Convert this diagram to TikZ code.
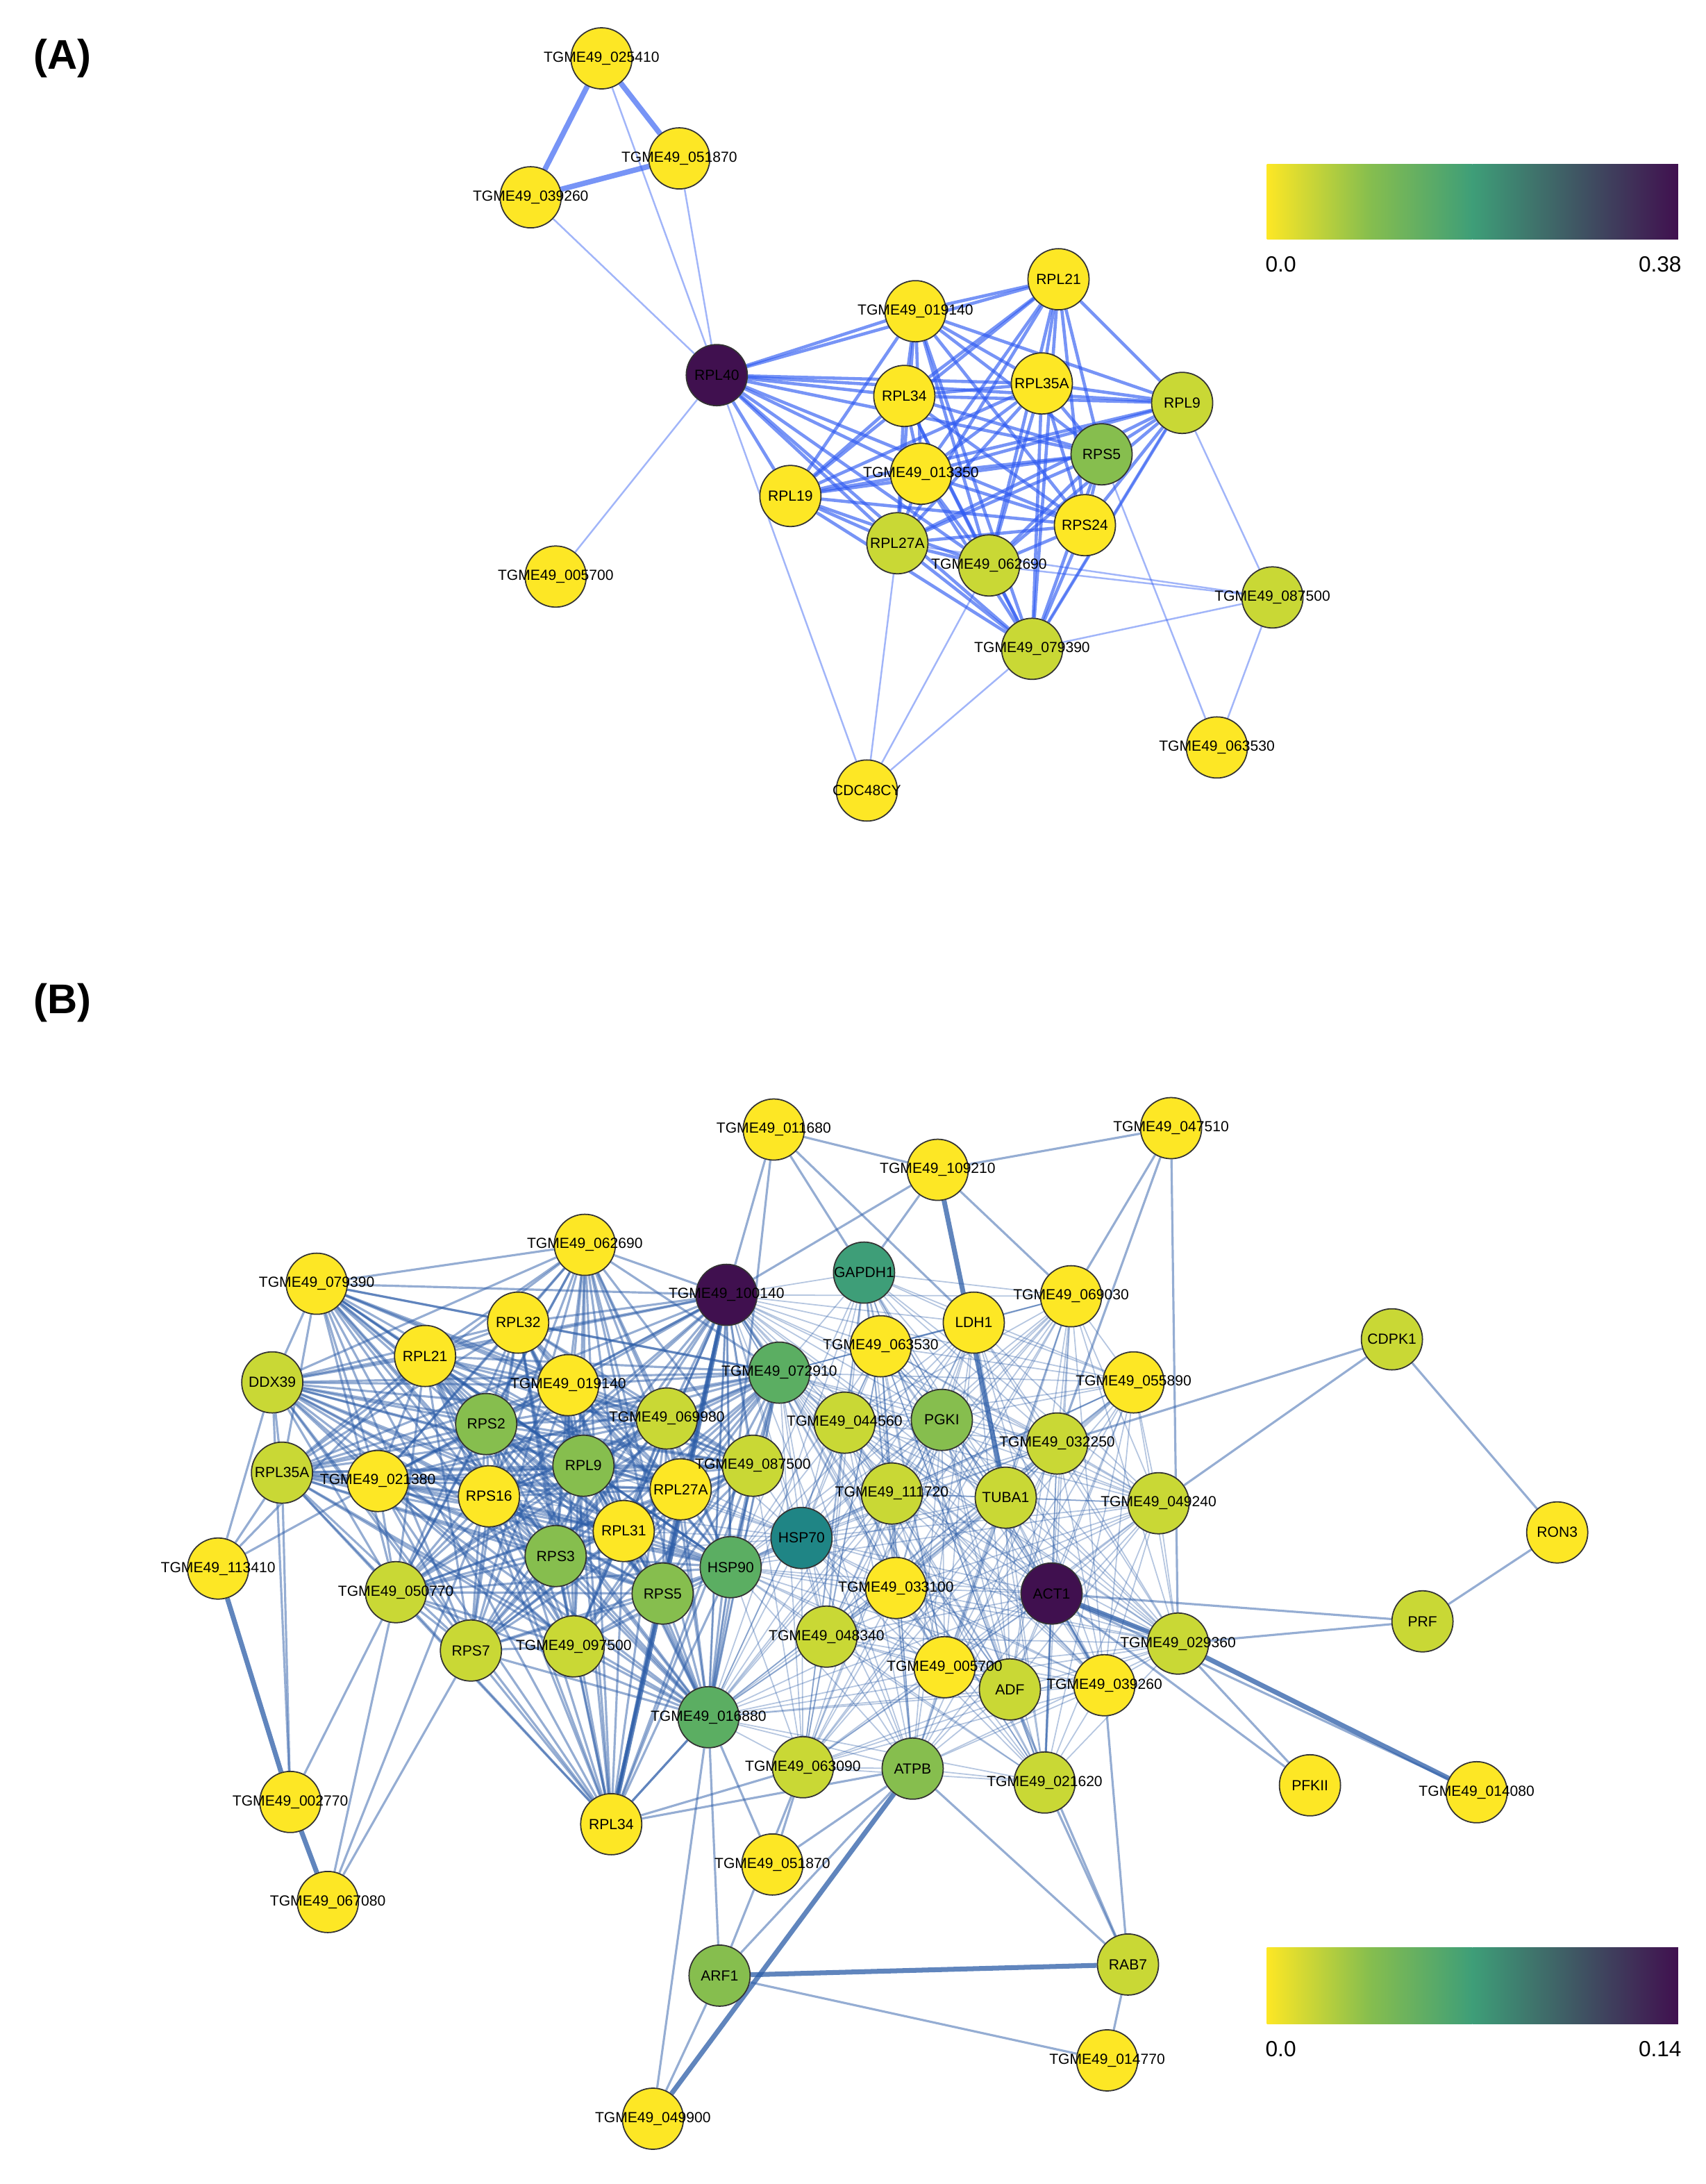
\documentclass[tikz,border=0pt]{standalone}
\usepackage{fontspec}
\setmainfont{Liberation Sans}
\pgfdeclarelayer{back}\pgfdeclarelayer{bg}\pgfdeclarelayer{fg}
\pgfsetlayers{back,bg,main,fg}
\definecolor{cy}{HTML}{FDE725}
\definecolor{co}{HTML}{C9D835}
\definecolor{cg}{HTML}{86BE4E}
\definecolor{cgg}{HTML}{5BAE62}
\definecolor{ct}{HTML}{3E9E78}
\definecolor{ctt}{HTML}{1F8585}
\definecolor{cd}{HTML}{40104F}
\definecolor{ea}{HTML}{2F5BF2}
\definecolor{eb}{HTML}{2C5DA8}
\tikzset{nc/.style={circle,draw=black!80,line width=0.5pt,minimum size=0.88cm,inner sep=0},
 lb/.style={font=\fontsize{6}{7}\selectfont,inner sep=0},
 ae/.style={draw=ea,line width=1.3pt,opacity=.65},
 aet/.style={draw=ea,line width=0.7pt,opacity=.45},
 be/.style={draw=eb,line width=0.9pt,opacity=.5},
 bet/.style={draw=eb,line width=0.5pt,opacity=.35},
 bek/.style={draw=eb,line width=2pt,opacity=.75}}
\newcommand\nd[5]{\node[nc,fill=#4] (#1) at (#2,#3) {};\begin{pgfonlayer}{fg}\node[lb] at (#1) {#5};\end{pgfonlayer}}
\begin{document}
\begin{tikzpicture}[x=0.02cm,y=-0.02cm]
\begin{pgfonlayer}{back}
\fill[white] (0,0) rectangle (1228,1572);
\end{pgfonlayer}
\useasboundingbox (0,0) rectangle (1228,1572);
\node[font=\bfseries\fontsize{17}{20}\selectfont] (LA) at (45,42) {(A)};
\node[font=\bfseries\fontsize{17}{20}\selectfont] (LB) at (45,722) {(B)};
% colorbars
\shade[left color=cy,right color=ct,middle color=cg] (912,118) rectangle (1060,172);
\shade[left color=ct,right color=cd] (1060,118) rectangle (1208,172);
\node[font=\fontsize{9}{10}\selectfont] (ca0) at (922,190) {0.0};
\node[font=\fontsize{9}{10}\selectfont] (ca1) at (1195,190) {0.38};
\shade[left color=cy,right color=ct,middle color=cg] (912,1402) rectangle (1060,1457);
\shade[left color=ct,right color=cd] (1060,1402) rectangle (1208,1457);
\node[font=\fontsize{9}{10}\selectfont] (cb0) at (922,1475) {0.0};
\node[font=\fontsize{9}{10}\selectfont] (cb1) at (1195,1475) {0.14};
% Panel A nodes
\nd{a25}{433}{42}{cy}{TGME49\_025410}
\nd{a51}{489}{114}{cy}{TGME49\_051870}
\nd{a39}{382}{142}{cy}{TGME49\_039260}
\nd{a40}{516}{270}{cd}{RPL40}
\nd{a19}{659}{224}{cy}{TGME49\_019140}
\nd{a21}{762}{201}{cy}{RPL21}
\nd{a34}{651}{285}{cy}{RPL34}
\nd{a35}{750}{276}{cy}{RPL35A}
\nd{a9}{851}{290}{co}{RPL9}
\nd{as5}{793}{327}{cg}{RPS5}
\nd{a13}{663}{341}{cy}{TGME49\_013350}
\nd{aL19}{569}{357}{cy}{RPL19}
\nd{a27}{646}{391}{co}{RPL27A}
\nd{a62}{712}{407}{co}{TGME49\_062690}
\nd{as24}{781}{378}{cy}{RPS24}
\nd{a87}{916}{430}{co}{TGME49\_087500}
\nd{a79}{743}{467}{co}{TGME49\_079390}
\nd{a05}{400}{415}{cy}{TGME49\_005700}
\nd{a63}{876}{538}{cy}{TGME49\_063530}
\nd{acdc}{624}{569}{cy}{CDC48CY}
\begin{pgfonlayer}{bg}
\foreach \p [count=\i] in {a40,a19,a21,a34,a35,a9,as5,a13,aL19,a27,a62,as24,a79}{
 \foreach \q [count=\j] in {a40,a19,a21,a34,a35,a9,as5,a13,aL19,a27,a62,as24,a79}{
  \ifnum\i<\j \draw[ae] (\p)--(\q); \fi}}
\draw[ae,line width=2.2pt] (a25)--(a51) (a51)--(a39) (a39)--(a25);
\foreach \p/\q in {a39/a40,a25/a40,a51/a40,a40/a05,a40/acdc,acdc/a27,acdc/a62,acdc/a79,a87/a9,a87/a79,a87/a62,a87/a27,a87/a63,as5/a63,a9/a79}
 \draw[aet] (\p)--(\q);
\end{pgfonlayer}
% Panel B nodes
\nd{b11680}{557}{813}{cy}{TGME49\_011680}
\nd{b109210}{675}{842}{cy}{TGME49\_109210}
\nd{b47510}{843}{812}{cy}{TGME49\_047510}
\nd{b62}{421}{896}{cy}{TGME49\_062690}
\nd{b79}{228}{924}{cy}{TGME49\_079390}
\nd{bGAP}{622}{916}{ct}{GAPDH1}
\nd{b100140}{523}{932}{cd}{TGME49\_100140}
\nd{bL32}{373}{952}{cy}{RPL32}
\nd{bLDH}{701}{952}{cy}{LDH1}
\nd{b69030}{771}{933}{cy}{TGME49\_069030}
\nd{bL21}{306}{976}{cy}{RPL21}
\nd{bDDX}{196}{995}{co}{DDX39}
\nd{b63530}{634}{969}{cy}{TGME49\_063530}
\nd{b72910}{561}{988}{cgg}{TGME49\_072910}
\nd{b19}{409}{997}{cy}{TGME49\_019140}
\nd{bCDPK}{1002}{964}{co}{CDPK1}
\nd{b55890}{816}{995}{cy}{TGME49\_055890}
\nd{bS2}{350}{1025}{cg}{RPS2}
\nd{b69980}{480}{1021}{co}{TGME49\_069980}
\nd{b44560}{608}{1024}{co}{TGME49\_044560}
\nd{bPGK}{678}{1022}{cg}{PGKI}
\nd{b32250}{761}{1039}{co}{TGME49\_032250}
\nd{bL35}{203}{1060}{co}{RPL35A}
\nd{b21380}{272}{1066}{cy}{TGME49\_021380}
\nd{bL9}{420}{1055}{cg}{RPL9}
\nd{bS16}{352}{1077}{cy}{RPS16}
\nd{bL27}{490}{1072}{cy}{RPL27A}
\nd{b87500}{542}{1055}{co}{TGME49\_087500}
\nd{b111720}{642}{1075}{co}{TGME49\_111720}
\nd{b49240}{834}{1082}{co}{TGME49\_049240}
\nd{bTUBA}{724}{1078}{co}{TUBA1}
\nd{bHSP70}{577}{1107}{ctt}{HSP70}
\nd{bL31}{449}{1102}{cy}{RPL31}
\nd{bS3}{400}{1120}{cg}{RPS3}
\nd{bHSP90}{526}{1128}{cgg}{HSP90}
\nd{bRON}{1121}{1103}{cy}{RON3}
\nd{b113410}{157}{1129}{cy}{TGME49\_113410}
\nd{b50770}{285}{1146}{co}{TGME49\_050770}
\nd{bS5}{477}{1147}{cg}{RPS5}
\nd{b33100}{645}{1143}{cy}{TGME49\_033100}
\nd{bACT}{757}{1147}{cd}{ACT1}
\nd{bPRF}{1024}{1167}{co}{PRF}
\nd{bS7}{339}{1188}{co}{RPS7}
\nd{b97500}{413}{1185}{co}{TGME49\_097500}
\nd{b48340}{595}{1178}{co}{TGME49\_048340}
\nd{b29360}{848}{1183}{co}{TGME49\_029360}
\nd{b05700}{680}{1200}{cy}{TGME49\_005700}
\nd{bADF}{727}{1216}{co}{ADF}
\nd{b39260}{795}{1213}{cy}{TGME49\_039260}
\nd{b16880}{510}{1236}{cgg}{TGME49\_016880}
\nd{bPFK}{943}{1285}{cy}{PFKII}
\nd{b14080}{1063}{1290}{cy}{TGME49\_014080}
\nd{b63090}{578}{1272}{co}{TGME49\_063090}
\nd{bATPB}{657}{1273}{cg}{ATPB}
\nd{b21620}{752}{1283}{co}{TGME49\_021620}
\nd{b02770}{209}{1297}{cy}{TGME49\_002770}
\nd{bL34}{440}{1313}{cy}{RPL34}
\nd{b51870}{556}{1342}{cy}{TGME49\_051870}
\nd{b67080}{236}{1369}{cy}{TGME49\_067080}
\nd{bARF}{518}{1422}{cg}{ARF1}
\nd{bRAB}{812}{1414}{co}{RAB7}
\nd{b14770}{797}{1483}{cy}{TGME49\_014770}
\nd{b49900}{470}{1525}{cy}{TGME49\_049900}
\begin{pgfonlayer}{bg}
\foreach \p [count=\i] in {b79,b62,bL32,bL21,bDDX,b19,bS2,b69980,bL35,b21380,bL9,bS16,bL27,b87500,bL31,bS3,bS5,bHSP90,b50770,bS7,b97500,b16880,bL34,b100140,b72910}{
 \foreach \q [count=\j] in {b79,b62,bL32,bL21,bDDX,b19,bS2,b69980,bL35,b21380,bL9,bS16,bL27,b87500,bL31,bS3,bS5,bHSP90,b50770,bS7,b97500,b16880,bL34,b100140,b72910}{
  \ifnum\i<\j \draw[be] (\p)--(\q); \fi}}
\foreach \p [count=\i] in {b100140,bGAP,bLDH,b63530,b72910,b44560,bPGK,b32250,b111720,bTUBA,bHSP70,bHSP90,b33100,bACT,b48340,b05700,bADF,b39260,b16880,b63090,bATPB,b21620,b29360,b49240,b69030,b55890}{
 \foreach \q [count=\j] in {b100140,bGAP,bLDH,b63530,b72910,b44560,bPGK,b32250,b111720,bTUBA,bHSP70,bHSP90,b33100,bACT,b48340,b05700,bADF,b39260,b16880,b63090,bATPB,b21620,b29360,b49240,b69030,b55890}{
  \ifnum\i<\j \draw[bet] (\p)--(\q); \fi}}
\foreach \p in {bL9,bS2,bS3,bS5,bL27,bL31,b69980,b87500,b97500,bS16,bL21}
 \draw[bet] (bHSP70)--(\p);
\foreach \p/\q in {b11680/b100140,b11680/bGAP,b11680/b109210,b11680/b16880,b11680/bLDH,b109210/bGAP,b109210/b47510,b109210/b100140,b109210/b69030,b47510/b29360,b47510/b69030,b47510/b32250,bCDPK/b49240,bCDPK/b32250,bCDPK/bRON,bRON/bPRF,bPRF/b29360,bPRF/bACT,b29360/bPFK,bACT/bPFK,bACT/b14080,b113410/bL35,b113410/bDDX,b113410/bL21,b113410/b21380,b02770/bDDX,b02770/bL35,b67080/bS7,b67080/b50770,b02770/b50770,b67080/bS16,bL34/bATPB,b51870/bATPB,b51870/b63090,b51870/b16880,bARF/bATPB,bARF/b16880,bARF/b14770,bARF/b63090,b49900/b16880,bRAB/b14770,bRAB/bATPB,bRAB/b21620,bRAB/bADF,bRAB/b39260,b39260/bACT,b21620/bACT,b49900/bARF,bL34/b16880,bL34/b63090}
 \draw[be] (\p)--(\q);
\foreach \p/\q in {b109210/bTUBA,b02770/b67080,b29360/b14080,bARF/bRAB,b49900/bATPB,bACT/b29360,b113410/b02770,bL34/bS5,b100140/bS5}
 \draw[bek] (\p)--(\q);
\end{pgfonlayer}
\end{tikzpicture}
\end{document}
